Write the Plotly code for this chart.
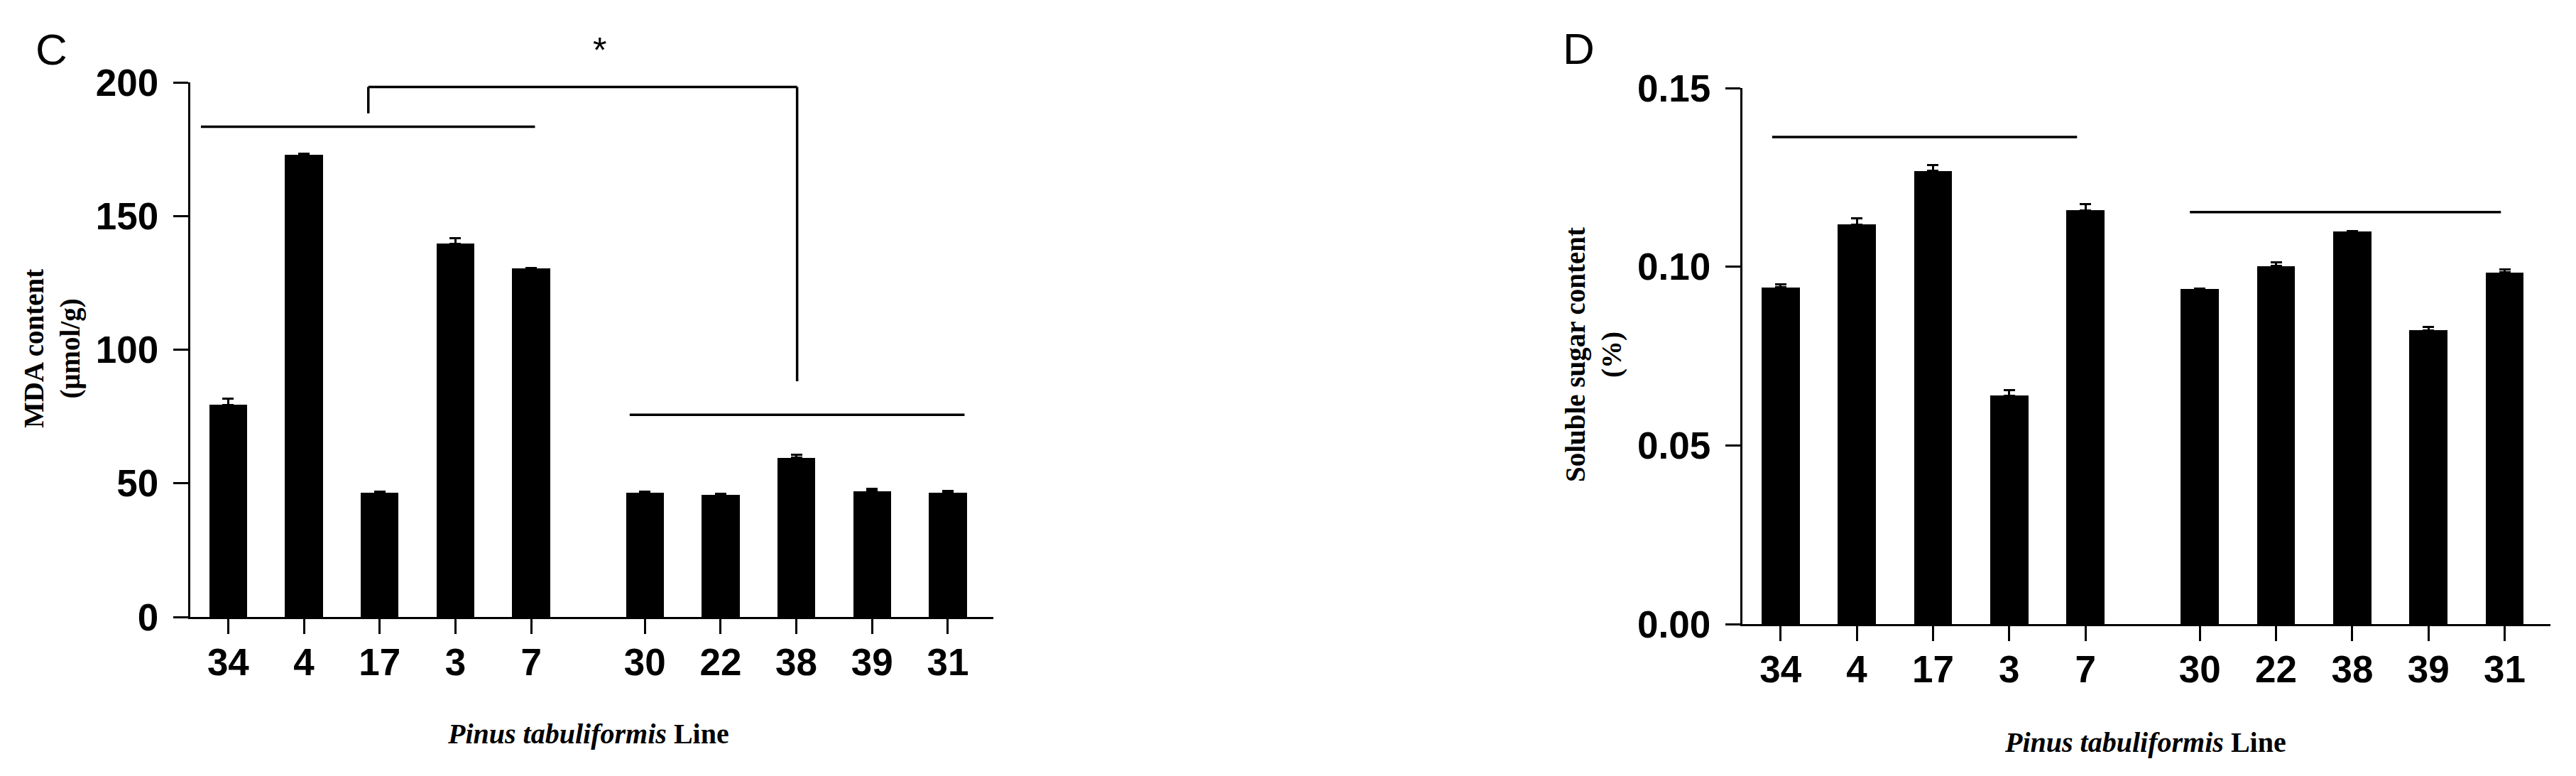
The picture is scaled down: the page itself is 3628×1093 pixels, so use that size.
import plotly.graph_objects as go

# Lines of Pinus tabuliformis, two groups
group1 = ["34", "4", "17", "3", "7"]
group2 = ["30", "22", "38", "39", "31"]

# C: MDA content (umol/g), mean and SEM
mda_mean = [79.3, 173.0, 46.4, 139.7, 130.3, 46.4, 45.7, 59.5, 47.1, 46.6]
mda_err = [2.4, 0.4, 0.4, 2.1, 0.3, 0.5, 0.4, 1.1, 0.8, 0.5]

# D: soluble sugar content (%), mean and SEM
sugar_mean = [0.0942, 0.1118, 0.1268, 0.0639, 0.1158, 0.0938, 0.1002, 0.1099, 0.0822, 0.0984]
sugar_err = [0.0009, 0.0018, 0.0017, 0.0016, 0.0018, 0.0, 0.0011, 0.0, 0.0010, 0.0008]

labels = group1 + group2
# gap of 1.5 slots between the two groups
xpos = list(range(len(group1))) + [len(group1) + 0.5 + i for i in range(len(group2))]

W, H = 3628, 1093
OFF = 8  # page body margin


def fx(p):
    return (p - OFF) / W


def fy(p):
    return 1 - (p - OFF) / H


AX = "Liberation Sans"
TM = "Liberation Serif"
LW = 3.3

fig = go.Figure()

fig.add_trace(go.Bar(x=xpos, y=mda_mean, width=0.5, marker=dict(color="black", line=dict(width=0)),
                     error_y=dict(type="data", array=mda_err, arrayminus=[0] * len(mda_err), symmetric=False,
                                  color="black", thickness=3, width=8),
                     xaxis="x", yaxis="y", showlegend=False))
fig.add_trace(go.Bar(x=xpos, y=sugar_mean, width=0.5, marker=dict(color="black", line=dict(width=0)),
                     error_y=dict(type="data", array=sugar_err, arrayminus=[0] * len(sugar_err), symmetric=False,
                                  color="black", thickness=3, width=8),
                     xaxis="x2", yaxis="y2", showlegend=False))

tickfont = dict(family=AX, size=53, color="black", weight="bold")
xcommon = dict(range=[-0.5, 10.1], tickvals=xpos, ticktext=labels, showline=True, linewidth=LW,
               linecolor="black", ticks="outside", ticklen=21, tickwidth=3, tickcolor="black",
               tickfont=tickfont, showgrid=False, zeroline=False, ticklabelstandoff=-6, automargin=False)
ycommon = dict(showline=True, linewidth=LW, linecolor="black", ticks="outside", ticklen=21, tickwidth=3,
               tickcolor="black", tickfont=tickfont, showgrid=False, zeroline=False, ticklabelstandoff=10,
               automargin=False)

fig.update_layout(
    width=W, height=H,
    margin=dict(l=0, r=0, t=0, b=0, autoexpand=False),
    paper_bgcolor="white", plot_bgcolor="white",
    showlegend=False,
    bargap=0,
    xaxis=dict(domain=[fx(268), fx(1399)], anchor="y", **xcommon),
    yaxis=dict(domain=[fy(869), fy(116)], anchor="x", range=[0, 200], tickvals=[0, 50, 100, 150, 200], **ycommon),
    xaxis2=dict(domain=[fx(2454), fx(3592)], anchor="y2", **xcommon),
    yaxis2=dict(domain=[fy(879), fy(124)], anchor="x2", range=[0, 0.15], tickvals=[0, 0.05, 0.10, 0.15],
                tickformat=".2f", **ycommon),
)

# significance lines / bracket
def seg(xr, yr, x0, y0, x1, y1):
    fig.add_shape(type="line", xref=xr, yref=yr, x0=x0, y0=y0, x1=x1, y1=y1,
                  line=dict(color="black", width=3.5))

seg("x", "y", -0.36, 183.4, 4.05, 183.4)
seg("x", "y", 5.30, 75.6, 9.72, 75.6)
seg("x", "y", 1.85, 198.3, 7.51, 198.3)
seg("x", "y", 1.85, 198.3, 1.85, 188.4)
seg("x", "y", 7.51, 198.3, 7.51, 88.2)

seg("x2", "y2", -0.11, 0.1363, 3.89, 0.1363)
seg("x2", "y2", 5.37, 0.1153, 9.45, 0.1153)

ann = []
ann.append(dict(text="*", x=4.9, y=200, xref="x", yref="y", yanchor="bottom", yshift=15, showarrow=False,
                font=dict(family=AX, size=50, color="black")))
ann.append(dict(text="C", x=fx(72), y=fy(70), xref="paper", yref="paper", showarrow=False,
                xanchor="center", yanchor="middle", font=dict(family=AX, size=62, color="black")))
ann.append(dict(text="D", x=fx(2223), y=fy(68), xref="paper", yref="paper", showarrow=False,
                xanchor="center", yanchor="middle", font=dict(family=AX, size=62, color="black")))
ann.append(dict(text="<b>MDA content<br>(μmol/g)</b>", x=fx(73), y=fy(491), xref="paper",
                yref="paper", textangle=-90, showarrow=False, xanchor="center", yanchor="middle",
                font=dict(family=TM, size=39, color="black")))
ann.append(dict(text="<b>Soluble sugar content<br>(%)</b>", x=fx(2245), y=fy(500), xref="paper",
                yref="paper", textangle=-90, showarrow=False, xanchor="center", yanchor="middle",
                font=dict(family=TM, size=39, color="black")))
ann.append(dict(text="<b><i>Pinus tabuliformis</i> Line</b>", x=fx(828), y=fy(1033), xref="paper",
                yref="paper", showarrow=False, xanchor="center", yanchor="middle",
                font=dict(family=TM, size=40, color="black")))
ann.append(dict(text="<b><i>Pinus tabuliformis</i> Line</b>", x=fx(3021), y=fy(1045), xref="paper",
                yref="paper", showarrow=False, xanchor="center", yanchor="middle",
                font=dict(family=TM, size=40, color="black")))
fig.update_layout(annotations=ann)

fig.write_html("out.html")
